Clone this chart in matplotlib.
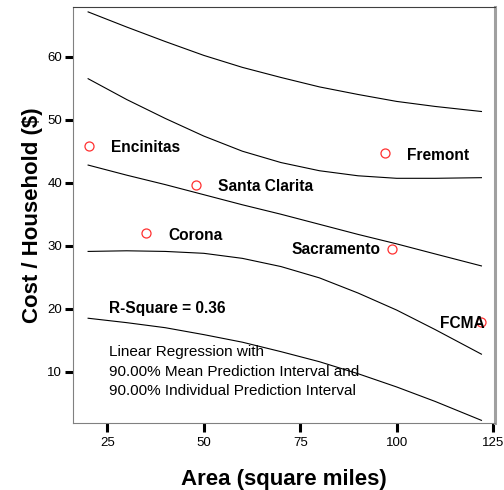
import matplotlib
matplotlib.use('Agg')
import matplotlib.pyplot as plt

plt.rcParams['font.family'] = ['Liberation Sans', 'DejaVu Sans']

# city data (area, cost per household)
cities = ['Encinitas', 'Corona', 'Santa Clarita', 'Fremont', 'Sacramento', 'FCMA']
area = [20.1, 35.0, 48.1, 96.9, 98.9, 121.8]
cost = [45.8, 32.1, 39.6, 44.7, 29.5, 17.9]

# regression band curves
band_x = [20, 30, 40, 50, 60, 70, 80, 90, 100, 110, 122]
fit_line = [42.8, 41.2, 39.7, 38.1, 36.5, 35.0, 33.4, 31.8, 30.3, 28.7, 26.8]
mean_upper = [56.5, 53.2, 50.2, 47.4, 45.0, 43.2, 41.9, 41.1, 40.7, 40.7, 40.8]
mean_lower = [29.1, 29.2, 29.1, 28.8, 28.0, 26.7, 24.9, 22.5, 19.8, 16.7, 12.8]
indiv_upper = [67.1, 64.7, 62.4, 60.2, 58.3, 56.7, 55.2, 54.0, 52.9, 52.1, 51.3]
indiv_lower = [18.5, 17.8, 17.0, 15.9, 14.7, 13.2, 11.6, 9.7, 7.6, 5.3, 2.3]

r_square = 0.36

fig = plt.figure(figsize=(5.04, 4.90), dpi=100)
ax = fig.add_axes([0.145, 0.137, 0.837, 0.849])

for curve in [indiv_upper, mean_upper, fit_line, mean_lower, indiv_lower]:
    ax.plot(band_x, curve, color='black', lw=0.8)

ax.plot(area, cost, 'o', mfc='none', mec='#ff3030', mew=0.9, ms=6.5, zorder=3)

# point labels
label_pos = {
    'Encinitas': (26.0, 45.6, 'left'),
    'Corona': (40.8, 31.7, 'left'),
    'Santa Clarita': (53.7, 39.4, 'left'),
    'Fremont': (102.8, 44.3, 'left'),
    'Sacramento': (95.8, 29.4, 'right'),
    'FCMA': (111.2, 17.7, 'left'),
}
for name in cities:
    lx, ly, ha = label_pos[name]
    ax.text(lx, ly, name, fontsize=11.2, fontweight='bold', ha=ha, va='center')

ax.text(25.5, 20.0, 'R-Square = %.2f' % r_square, fontsize=11.2, fontweight='bold',
        ha='left', va='center')
ax.text(25.5, 10.0, 'Linear Regression with\n90.00% Mean Prediction Interval and\n'
        '90.00% Individual Prediction Interval', fontsize=11, ha='left', va='center',
        linespacing=1.5)

ax.set_xlim(16.1, 125.5)
ax.set_ylim(1.9, 67.9)
ax.set_xticks([25, 50, 75, 100, 125])
ax.set_yticks([10, 20, 30, 40, 50, 60])
ax.tick_params(axis='x', direction='out', length=6.3, width=2.2, labelsize=9.5, pad=4)
ax.tick_params(axis='y', direction='out', length=5.5, width=2.2, labelsize=9.5, pad=2.5)

ax.spines['left'].set_color('#808080')
ax.spines['bottom'].set_color('#808080')
ax.spines['top'].set_color('#404040')
ax.spines['right'].set_color('#a0a0a0')
ax.spines['right'].set_linewidth(2.2)

ax.set_xlabel('Area (square miles)', fontsize=16, fontweight='bold')
ax.set_ylabel('Cost / Household ($)', fontsize=16, fontweight='bold')
ax.xaxis.set_label_coords(0.5, -0.135)
ax.xaxis.label.set_va('center')
ax.yaxis.set_label_coords(-0.097, 0.5)
ax.yaxis.label.set_va('center')

plt.savefig('out.png')
